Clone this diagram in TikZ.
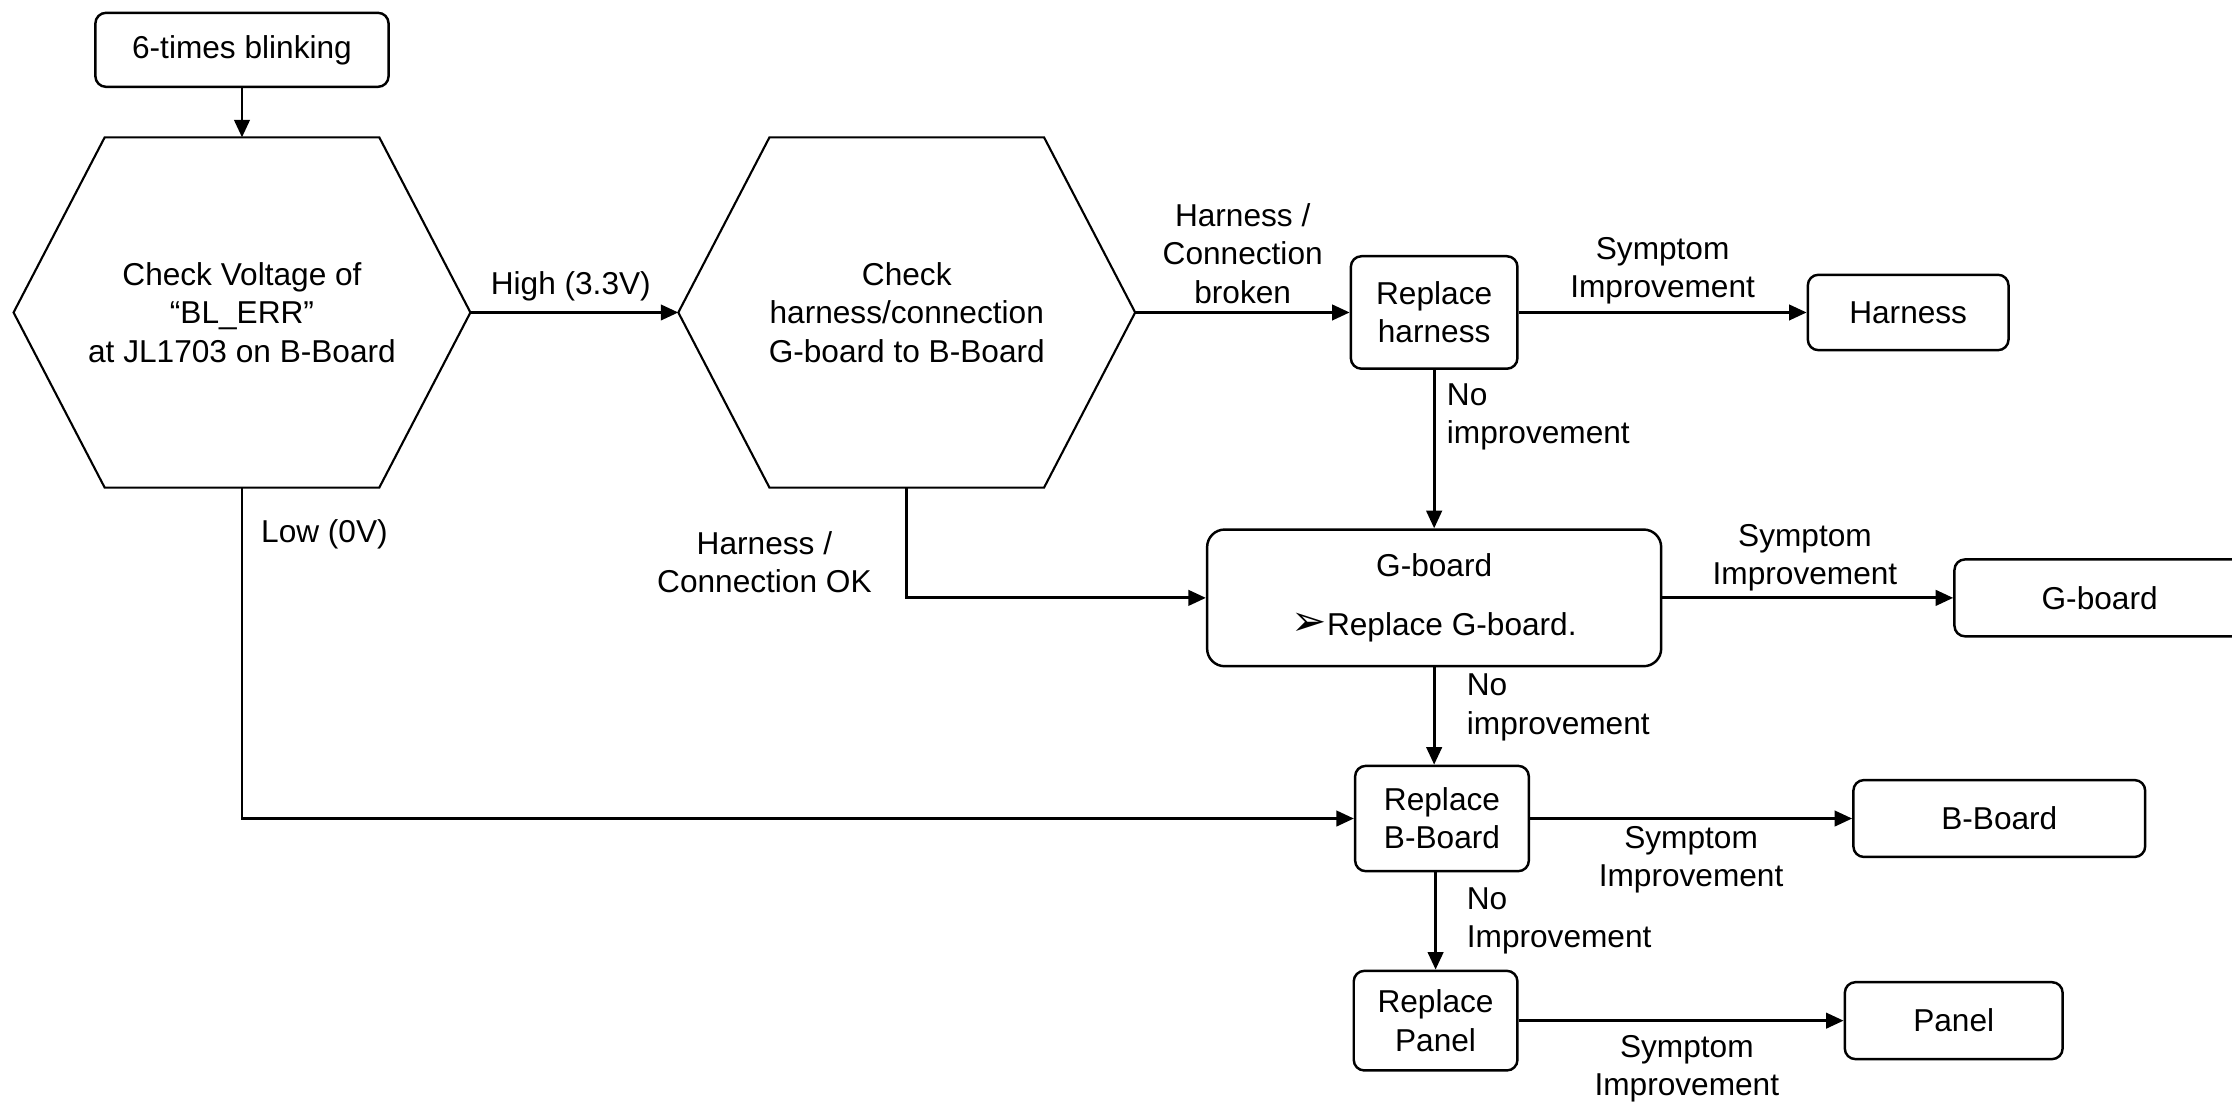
\documentclass[tikz,border=0pt]{standalone}
\usepackage{fontspec}
\setmainfont{Liberation Sans}
\newfontfamily\dingfont{DejaVu Sans}
\usetikzlibrary{arrows.meta, positioning, calc}

\begin{document}
\begin{tikzpicture}[x=0.014235cm, y=-0.014235cm, font=\fontsize{9}{10.9}\selectfont,
	box/.style={draw, rounded corners=3pt, line width=0.7pt, align=center, inner sep=0pt},
	hexnode/.style={minimum width=4.555cm, minimum height=3.488cm, align=center, inner sep=0pt},
	lbl/.style={align=center, inner sep=0pt},
	arr/.style={line width=0.8pt, -{Triangle[length=5pt, width=4.4pt]}}]
	\useasboundingbox (0,0) rectangle (1568,774);
	% decision and action nodes
	\node[box, minimum width=2.932cm, minimum height=0.740cm] (st) at (170,35) {6-times blinking};
	\node[hexnode] (hA) at (170,219.5) {Check Voltage of\\“BL\_ERR”\\at JL1703 on B-Board};
	\node[hexnode] (hB) at (637,219.5) {Check\\harness/connection\\G-board to B-Board};
	\foreach \h in {hA,hB}
		\draw[line width=0.6pt] (\h.west) -- ($(\h.north west)+(64,0)$) -- ($(\h.north east)+(-64,0)$)
			-- (\h.east) -- ($(\h.south east)+(-64,0)$) -- ($(\h.south west)+(64,0)$) -- cycle;
	\node[box, minimum width=1.666cm, minimum height=1.125cm] (rH) at (1007.5,219.5) {Replace\\harness};
	\node[box, minimum width=2.007cm, minimum height=0.754cm] (hR) at (1340.5,219.5) {Harness};
	\node[box, rounded corners=5pt, minimum width=4.541cm, minimum height=1.367cm] (gB) at (1007.5,420)
		{G-board\\[0.2cm]{\dingfont\large ➢}Replace G-board.};
	\node[box, minimum width=2.904cm, minimum height=0.769cm] (gR) at (1475,420) {G-board};
	\node[box, minimum width=1.737cm, minimum height=1.053cm] (rB) at (1013,575) {Replace\\B-Board};
	\node[box, minimum width=2.918cm, minimum height=0.769cm] (bR) at (1404.5,575) {B-Board};
	\node[box, minimum width=1.637cm, minimum height=0.996cm] (rP) at (1008.5,717) {Replace\\Panel};
	\node[box, minimum width=2.178cm, minimum height=0.769cm] (pR) at (1372.5,717) {Panel};
	% labels
	\node[lbl] (lHigh) at (401,201) {High (3.3V)};
	\node[lbl] (lBroken) at (873,178) {Harness /\\Connection\\broken};
	\node[lbl] (lSymH) at (1168,190) {Symptom\\Improvement};
	\node[lbl, anchor=west, align=left] (lNoH) at (1016,293) {No\\improvement};
	\node[lbl] (lOK) at (537,395) {Harness /\\Connection OK};
	\node[lbl] (lSymG) at (1268,392) {Symptom\\Improvement};
	\node[lbl, anchor=west] (lLow) at (183,375) {Low (0V)};
	\node[lbl, anchor=west, align=left] (lNoG) at (1030,497) {No\\improvement};
	\node[lbl] (lSymB) at (1188,604) {Symptom\\Improvement};
	\node[lbl, anchor=west, align=left] (lNoB) at (1030,647) {No\\Improvement};
	\node[lbl] (lSymP) at (1185,751) {Symptom\\Improvement};
	% connectors
	\draw[arr] (st.south) -- (hA.north);
	\draw[arr] (hA.east) -- (hB.west);
	\draw[arr] (hB.east) -- (rH.west);
	\draw[arr] (rH.east) -- (hR.west);
	\draw[arr] (rH.south) -- (gB.north);
	\draw[arr] (hB.south) |- (gB.west);
	\draw[arr] (gB.east) -- (gR.west);
	\draw[arr] (gB.south) -- (gB.south |- rB.north);
	\draw[arr] (hA.south) |- (rB.west);
	\draw[arr] (rB.east) -- (bR.west);
	\draw[arr] (rB.south -| rP.north) -- (rP.north);
	\draw[arr] (rP.east) -- (pR.west);
\end{tikzpicture}
\end{document}
